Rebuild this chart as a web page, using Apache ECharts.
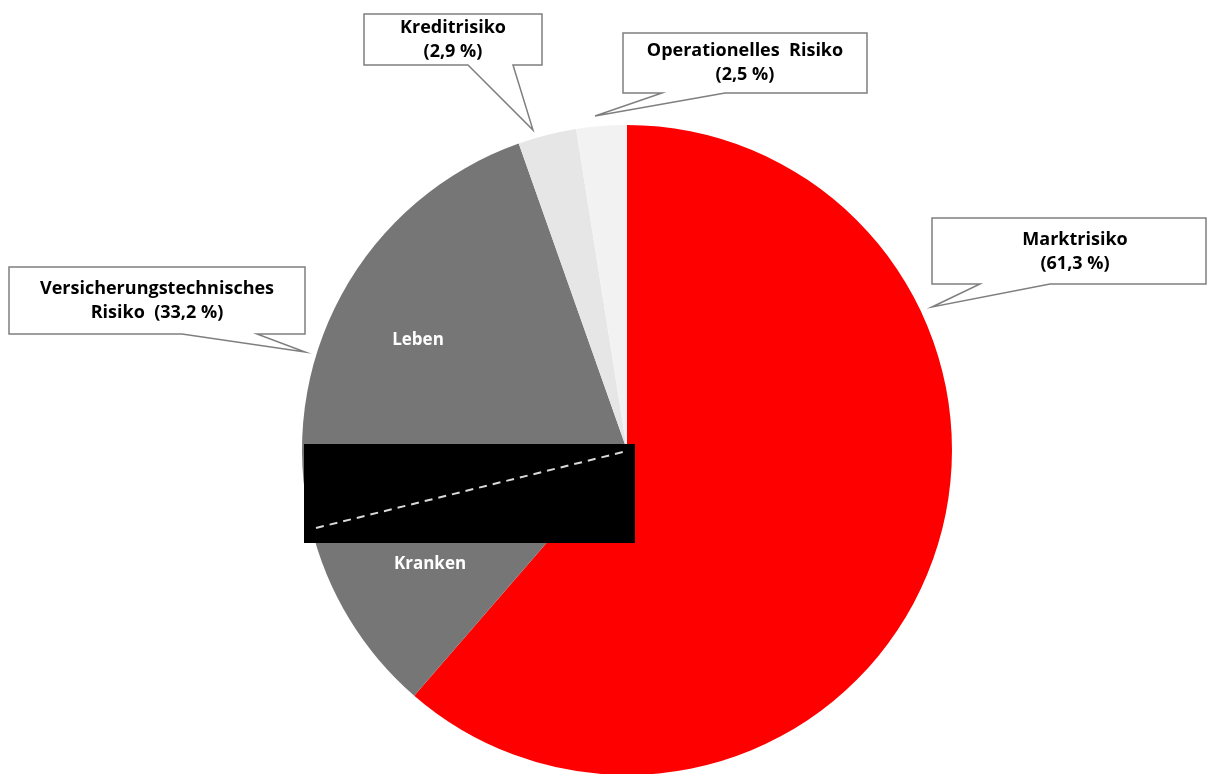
<!DOCTYPE html>
<html>
<head>
<meta charset="utf-8">
<script src="https://cdn.jsdelivr.net/npm/echarts@6/dist/echarts.min.js"></script>
<style>
  html, body { margin: 0; padding: 0; background: #fff; }
  #chart { width: 1207px; height: 774px; }
</style>
</head>
<body>
<div id="chart"></div>
<script>
// slices, clockwise from 12 o'clock
var sliceNames = ['Marktrisiko', 'Kranken', 'Leben', 'Kreditrisiko', 'Operationelles Risiko'];
var sliceValues = [61.3, 9.9, 23.3, 2.9, 2.5];
var sliceColors = ['#ff0000', '#767676', '#767676', '#e6e6e6', '#f2f2f2'];

// risk groups shown in the callouts
var groupNames = ['Marktrisiko', 'Versicherungstechnisches Risiko', 'Kreditrisiko', 'Operationelles Risiko'];
var groupValues = [61.3, 33.2, 2.9, 2.5];
var groupLabels = ['Marktrisiko\n(61,3 %)', 'Versicherungstechnisches\nRisiko  (33,2 %)',
                   'Kreditrisiko\n(2,9 %)', 'Operationelles  Risiko\n(2,5 %)'];

var chart = echarts.init(document.getElementById('chart'));

var font = '"Open Sans", "Noto Sans", sans-serif';

// where the callout texts and inside texts sit
var groupLabelPos = [[1075, 252], [157, 301], [453, 40], [745, 63]];
var innerLabelPos = { 1: [430, 564], 2: [418, 340] };

// callout boxes: [left, top, right, bottom, tailX1, tailX2, tipX, tipY]
var callouts = [
    [932, 218, 1206, 284, 980, 1050, 932, 307],
    [9, 267, 305, 334, 182, 257, 305, 352],
    [364, 14, 542, 65, 468, 513, 533, 130],
    [623, 33, 867, 93, 662, 725, 595, 116]
];

function calloutShape(c) {
    return {
        type: 'polygon',
        z: 0,
        shape: {
            points: [[c[0], c[1]], [c[2], c[1]], [c[2], c[3]], [c[5], c[3]],
                     [c[6], c[7]], [c[4], c[3]], [c[0], c[3]]]
        },
        style: { fill: '#fff', stroke: '#7f7f7f', lineWidth: 1.5 }
    };
}

var graphics = callouts.map(calloutShape);
// black cover box with the dashed divider
graphics.push({
    type: 'rect', z: 100,
    shape: { x: 304, y: 444, width: 331, height: 99 },
    style: { fill: '#000' }
});
graphics.push({
    type: 'line', z: 101,
    shape: { x1: 316, y1: 528, x2: 623, y2: 452 },
    style: { stroke: '#d9d9d9', lineWidth: 2, lineDash: [8, 6] }
});

var option = {
    backgroundColor: '#fff',
    animation: false,
    graphic: graphics,
    series: [
        {
            type: 'pie',
            center: [627, 450],
            radius: 325,
            startAngle: 90,
            clockwise: true,
            z: 2,
            silent: true,
            data: sliceNames.map(function (n, i) {
                return {
                    name: n,
                    value: sliceValues[i],
                    itemStyle: { color: sliceColors[i] },
                    label: { show: i === 1 || i === 2 }
                };
            }),
            itemStyle: { borderWidth: 0 },
            label: {
                position: 'inside',
                formatter: '{b}',
                color: '#fff',
                fontFamily: font,
                fontWeight: 'bold',
                fontSize: 17
            },
            labelLine: { show: false },
            labelLayout: function (p) {
                var pos = innerLabelPos[p.dataIndex];
                if (!pos) return {};
                return { x: pos[0], y: pos[1], align: 'center', verticalAlign: 'middle' };
            }
        },
        {
            type: 'pie',
            center: [627, 450],
            radius: 325,
            startAngle: 90,
            clockwise: true,
            z: 3,
            silent: true,
            itemStyle: { color: 'rgba(0,0,0,0)', borderWidth: 0 },
            data: groupNames.map(function (n, i) {
                return { name: n, value: groupValues[i] };
            }),
            label: {
                position: 'outside',
                formatter: function (p) { return groupLabels[p.dataIndex]; },
                color: '#000',
                fontFamily: font,
                fontWeight: 'bold',
                fontSize: 18,
                lineHeight: 24,
                align: 'center'
            },
            labelLine: { show: false },
            labelLayout: function (p) {
                var pos = groupLabelPos[p.dataIndex];
                return { x: pos[0], y: pos[1], align: 'center', verticalAlign: 'middle' };
            }
        }
    ]
};

chart.setOption(option);
</script>
</body>
</html>
